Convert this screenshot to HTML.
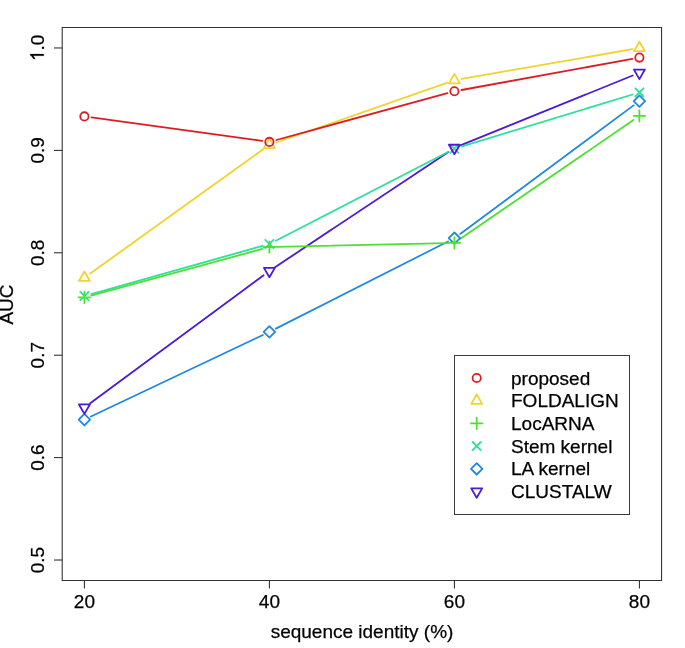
<!DOCTYPE html>
<html><head><meta charset="utf-8"><style>
html,body{margin:0;padding:0;background:#fff;}
body{width:685px;height:648px;overflow:hidden;position:relative;}
svg{position:absolute;left:0;top:0;will-change:transform;}
text{font-family:"Liberation Sans",sans-serif;font-size:19px;fill:#000;stroke:#000;stroke-width:0.25px;}
</style></head><body>
<svg width="685" height="648" viewBox="0 0 685 648">
<path d="M62.2 27.5H661.6M62.2 580.5H661.6" stroke="#333" stroke-width="1"/>
<path d="M62.2 27V581M661.6 27V581" stroke="#222" stroke-width="1"/>
<path d="M84.4 580.5V588.5" stroke="#222" stroke-width="1"/>
<text x="84.4" y="607.5" text-anchor="middle">20</text>
<path d="M269.4 580.5V588.5" stroke="#222" stroke-width="1"/>
<text x="269.4" y="607.5" text-anchor="middle">40</text>
<path d="M454.4 580.5V588.5" stroke="#222" stroke-width="1"/>
<text x="454.4" y="607.5" text-anchor="middle">60</text>
<path d="M639.4 580.5V588.5" stroke="#222" stroke-width="1"/>
<text x="639.4" y="607.5" text-anchor="middle">80</text>
<path d="M54 47.98H62.2" stroke="#222" stroke-width="1"/>
<g transform="translate(43.8 47.98) rotate(-90)"><path d="M-6.13 0.00L-7.80 0.00L-7.80 -10.64Q-8.40 -10.07 -9.38 -9.49Q-10.36 -8.92 -11.14 -8.63L-11.14 -10.24Q-9.74 -10.90 -8.69 -11.84Q-7.64 -12.77 -7.20 -13.66L-6.13 -13.66Z" fill="#000" stroke="#000" stroke-width="0.25"/><text x="-2.64" y="0">.0</text></g>
<path d="M54 150.39H62.2" stroke="#222" stroke-width="1"/>
<text transform="translate(43.8 150.39) rotate(-90)" text-anchor="middle">0.9</text>
<path d="M54 252.80H62.2" stroke="#222" stroke-width="1"/>
<text transform="translate(43.8 252.80) rotate(-90)" text-anchor="middle">0.8</text>
<path d="M54 355.20H62.2" stroke="#222" stroke-width="1"/>
<text transform="translate(43.8 355.20) rotate(-90)" text-anchor="middle">0.7</text>
<path d="M54 457.61H62.2" stroke="#222" stroke-width="1"/>
<text transform="translate(43.8 457.61) rotate(-90)" text-anchor="middle">0.6</text>
<path d="M54 560.02H62.2" stroke="#222" stroke-width="1"/>
<text transform="translate(43.8 560.02) rotate(-90)" text-anchor="middle">0.5</text>
<text x="362" y="638.3" text-anchor="middle">sequence identity (%)</text>
<text transform="translate(13.1 304.5) rotate(-90)" text-anchor="middle">AUC</text>
<path d="M90.91 416.52L262.89 334.98M275.82 328.65L447.98 241.45M460.18 233.91L633.62 105.39" stroke="#2088e0" stroke-width="1.8" fill="none" stroke-linecap="round"/>
<path d="M90.19 403.32L263.61 275.28M275.39 267.01L448.41 151.89M461.07 145.19L632.73 75.51" stroke="#4a1ad8" stroke-width="1.8" fill="none" stroke-linecap="round"/>
<path d="M91.33 294.05L262.47 245.95M275.80 240.70L448.00 152.00M461.29 146.60L632.51 94.50" stroke="#2ee09a" stroke-width="1.8" fill="none" stroke-linecap="round"/>
<path d="M91.35 295.51L262.45 248.89M276.60 246.84L447.20 243.06M460.34 238.83L633.46 119.97" stroke="#4ce030" stroke-width="1.8" fill="none" stroke-linecap="round"/>
<path d="M90.25 273.60L263.55 149.10M276.20 142.52L447.60 82.58M461.49 78.97L632.31 49.23" stroke="#f0d42c" stroke-width="1.8" fill="none" stroke-linecap="round"/>
<path d="M91.53 117.38L262.27 140.92M276.34 140.00L447.46 93.20M461.48 90.01L632.32 58.89" stroke="#dc1e24" stroke-width="1.8" fill="none" stroke-linecap="round"/>
<polygon points="84.40,413.90 90.10,419.60 84.40,425.30 78.70,419.60" stroke="#2088e0" stroke-width="1.8" fill="none" stroke-linejoin="round" stroke-linecap="round"/>
<polygon points="269.40,326.20 275.10,331.90 269.40,337.60 263.70,331.90" stroke="#2088e0" stroke-width="1.8" fill="none" stroke-linejoin="round" stroke-linecap="round"/>
<polygon points="454.40,232.50 460.10,238.20 454.40,243.90 448.70,238.20" stroke="#2088e0" stroke-width="1.8" fill="none" stroke-linejoin="round" stroke-linecap="round"/>
<polygon points="639.40,95.40 645.10,101.10 639.40,106.80 633.70,101.10" stroke="#2088e0" stroke-width="1.8" fill="none" stroke-linejoin="round" stroke-linecap="round"/>
<path d="M80.30 291.90L88.50 300.10M80.30 300.10L88.50 291.90" stroke="#2ee09a" stroke-width="1.8" fill="none" stroke-linejoin="round" stroke-linecap="round"/>
<path d="M265.30 239.90L273.50 248.10M265.30 248.10L273.50 239.90" stroke="#2ee09a" stroke-width="1.8" fill="none" stroke-linejoin="round" stroke-linecap="round"/>
<path d="M450.30 144.60L458.50 152.80M450.30 152.80L458.50 144.60" stroke="#2ee09a" stroke-width="1.8" fill="none" stroke-linejoin="round" stroke-linecap="round"/>
<path d="M635.30 88.30L643.50 96.50M635.30 96.50L643.50 88.30" stroke="#2ee09a" stroke-width="1.8" fill="none" stroke-linejoin="round" stroke-linecap="round"/>
<polygon points="84.40,413.90 89.86,404.45 78.94,404.45" stroke="#4a1ad8" stroke-width="1.8" fill="none" stroke-linejoin="round" stroke-linecap="round" stroke-linejoin="round"/>
<polygon points="269.40,277.30 274.86,267.85 263.94,267.85" stroke="#4a1ad8" stroke-width="1.8" fill="none" stroke-linejoin="round" stroke-linecap="round" stroke-linejoin="round"/>
<polygon points="454.40,154.20 459.86,144.75 448.94,144.75" stroke="#4a1ad8" stroke-width="1.8" fill="none" stroke-linejoin="round" stroke-linecap="round" stroke-linejoin="round"/>
<polygon points="639.40,79.10 644.86,69.65 633.94,69.65" stroke="#4a1ad8" stroke-width="1.8" fill="none" stroke-linejoin="round" stroke-linecap="round" stroke-linejoin="round"/>
<path d="M78.70 297.40H90.10M84.40 291.70V303.10" stroke="#4ce030" stroke-width="1.8" fill="none" stroke-linejoin="round" stroke-linecap="round"/>
<path d="M263.70 247.00H275.10M269.40 241.30V252.70" stroke="#4ce030" stroke-width="1.8" fill="none" stroke-linejoin="round" stroke-linecap="round"/>
<path d="M448.70 242.90H460.10M454.40 237.20V248.60" stroke="#4ce030" stroke-width="1.8" fill="none" stroke-linejoin="round" stroke-linecap="round"/>
<path d="M633.70 115.90H645.10M639.40 110.20V121.60" stroke="#4ce030" stroke-width="1.8" fill="none" stroke-linejoin="round" stroke-linecap="round"/>
<polygon points="84.40,271.50 89.86,280.95 78.94,280.95" stroke="#f0d42c" stroke-width="1.8" fill="none" stroke-linejoin="round" stroke-linecap="round" stroke-linejoin="round"/>
<polygon points="269.40,138.60 274.86,148.05 263.94,148.05" stroke="#f0d42c" stroke-width="1.8" fill="none" stroke-linejoin="round" stroke-linecap="round" stroke-linejoin="round"/>
<polygon points="454.40,73.90 459.86,83.35 448.94,83.35" stroke="#f0d42c" stroke-width="1.8" fill="none" stroke-linejoin="round" stroke-linecap="round" stroke-linejoin="round"/>
<polygon points="639.40,41.70 644.86,51.15 633.94,51.15" stroke="#f0d42c" stroke-width="1.8" fill="none" stroke-linejoin="round" stroke-linecap="round" stroke-linejoin="round"/>
<circle cx="84.40" cy="116.40" r="4.15" stroke="#dc1e24" stroke-width="1.8" fill="none" stroke-linejoin="round" stroke-linecap="round"/>
<circle cx="269.40" cy="141.90" r="4.15" stroke="#dc1e24" stroke-width="1.8" fill="none" stroke-linejoin="round" stroke-linecap="round"/>
<circle cx="454.40" cy="91.30" r="4.15" stroke="#dc1e24" stroke-width="1.8" fill="none" stroke-linejoin="round" stroke-linecap="round"/>
<circle cx="639.40" cy="57.60" r="4.15" stroke="#dc1e24" stroke-width="1.8" fill="none" stroke-linejoin="round" stroke-linecap="round"/>
<rect x="454.5" y="355.5" width="175" height="159" fill="#fff" stroke="#3a3a3a" stroke-width="1"/>
<circle cx="476.70" cy="378.00" r="4.15" stroke="#dc1e24" stroke-width="1.8" fill="none" stroke-linejoin="round" stroke-linecap="round"/>
<text x="511" y="384.60">proposed</text>
<polygon points="476.70,394.40 482.16,403.85 471.24,403.85" stroke="#f0d42c" stroke-width="1.8" fill="none" stroke-linejoin="round" stroke-linecap="round" stroke-linejoin="round"/>
<text x="511" y="407.30">FOLDALIGN</text>
<path d="M471.00 423.40H482.40M476.70 417.70V429.10" stroke="#4ce030" stroke-width="1.8" fill="none" stroke-linejoin="round" stroke-linecap="round"/>
<text x="511" y="430.00">LocARNA</text>
<path d="M472.60 442.00L480.80 450.20M472.60 450.20L480.80 442.00" stroke="#2ee09a" stroke-width="1.8" fill="none" stroke-linejoin="round" stroke-linecap="round"/>
<text x="511" y="452.70">Stem kernel</text>
<polygon points="476.70,463.10 482.40,468.80 476.70,474.50 471.00,468.80" stroke="#2088e0" stroke-width="1.8" fill="none" stroke-linejoin="round" stroke-linecap="round"/>
<text x="511" y="475.40">LA kernel</text>
<polygon points="476.70,497.80 482.16,488.35 471.24,488.35" stroke="#4a1ad8" stroke-width="1.8" fill="none" stroke-linejoin="round" stroke-linecap="round" stroke-linejoin="round"/>
<text x="511" y="498.10">CLUSTALW</text>
</svg>
</body></html>
